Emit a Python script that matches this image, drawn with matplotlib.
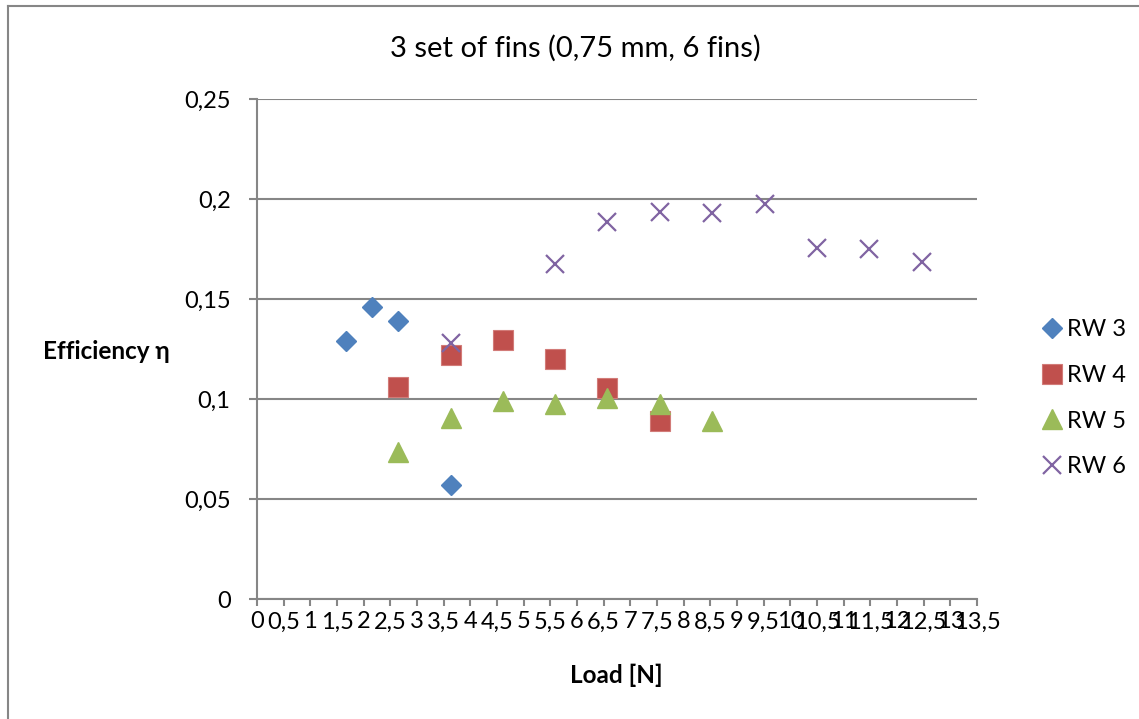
import matplotlib
matplotlib.use("Agg")
import matplotlib.pyplot as plt
from matplotlib.lines import Line2D

plt.rcParams['font.family'] = ['Lato', 'DejaVu Sans']

# Efficiency vs. load for four rotor widths
rw3_load = [1.67, 2.16, 2.65, 3.63]
rw3_eff = [0.129, 0.146, 0.139, 0.057]

rw4_load = [2.65, 3.63, 4.61, 5.59, 6.57, 7.55]
rw4_eff = [0.106, 0.122, 0.1295, 0.120, 0.1055, 0.089]

rw5_load = [2.65, 3.63, 4.61, 5.59, 6.57, 7.55, 8.54]
rw5_eff = [0.0734, 0.0907, 0.0988, 0.0973, 0.1005, 0.0973, 0.089]

rw6_load = [3.63, 5.59, 6.57, 7.55, 8.54, 9.52, 10.50, 11.48, 12.46]
rw6_eff = [0.128, 0.1677, 0.1887, 0.1935, 0.1932, 0.1977, 0.1757, 0.175, 0.1687]

x_ticks = [i * 0.5 for i in range(28)]
y_ticks = [0, 0.05, 0.1, 0.15, 0.2, 0.25]

title = "3 set of fins (0,75 mm, 6 fins)"
x_label = "Load [N]"
y_label = "Efficiency η"

GRAY = '#868686'

fig = plt.figure(figsize=(11.39, 7.19), dpi=100)
ax = fig.add_axes([257 / 1139, 120 / 719, 720 / 1139, 500 / 719])

ax.plot(rw3_load, rw3_eff, linestyle='none', marker='D', ms=10, color='#4F81BD',
        mec='#4F81BD', label='RW 3')
ax.plot(rw4_load, rw4_eff, linestyle='none', marker='s', ms=14, color='#C0504D',
        mec='#D27B78', mew=0.8, label='RW 4')
ax.plot(rw5_load, rw5_eff, linestyle='none', marker='^', ms=14, color='#9BBB59',
        mec='#9BBB59', label='RW 5')
ax.plot(rw6_load, rw6_eff, linestyle='none', marker='x', ms=13.5, mew=1.6,
        color='#8064A2', label='RW 6')

ax.set_xlim(0, 13.5)
ax.set_ylim(0, 0.25)
ax.set_xticks(x_ticks)
ax.set_xticklabels([f"{v:g}".replace('.', ',') for v in x_ticks])
ax.set_yticks(y_ticks)
ax.set_yticklabels([f"{v:g}".replace('.', ',') for v in y_ticks])

ax.grid(axis='y', color=GRAY, linewidth=1.5)
ax.set_axisbelow(True)
for side in ('top', 'right'):
    ax.spines[side].set_visible(False)
for side in ('left', 'bottom'):
    ax.spines[side].set_color(GRAY)
    ax.spines[side].set_linewidth(1.5)

ax.tick_params(axis='x', direction='out', length=5, width=1.5, color=GRAY,
               labelsize=17, pad=4)
ax.tick_params(axis='y', direction='out', length=6, width=1.5, color=GRAY,
               labelsize=17, pad=13)

fig.text(575 / 1139, 1 - 48 / 719, title, ha='center', va='center', fontsize=21)
fig.text(170 / 1139, 1 - 352 / 719, y_label, ha='right', va='center',
         fontsize=17.5, fontweight='bold')
fig.text(616 / 1139, 1 - 675 / 719, x_label, ha='center', va='center',
         fontsize=17.5, fontweight='bold')

fig.legend(loc='upper left', bbox_to_anchor=(1040 / 1139, 1 - 319 / 719),
           frameon=False, fontsize=17, handlelength=1.0, handletextpad=0.15,
           labelspacing=1.05, borderpad=0, borderaxespad=0)

# Outer chart frame
fig.add_artist(Line2D([8 / 1139, 8 / 1139], [0, 1 - 6 / 719],
                      transform=fig.transFigure, color=GRAY, linewidth=1.5))
fig.add_artist(Line2D([8 / 1139, 1], [1 - 6 / 719, 1 - 6 / 719],
                      transform=fig.transFigure, color=GRAY, linewidth=1.5))

fig.savefig('out.png', dpi=100)
